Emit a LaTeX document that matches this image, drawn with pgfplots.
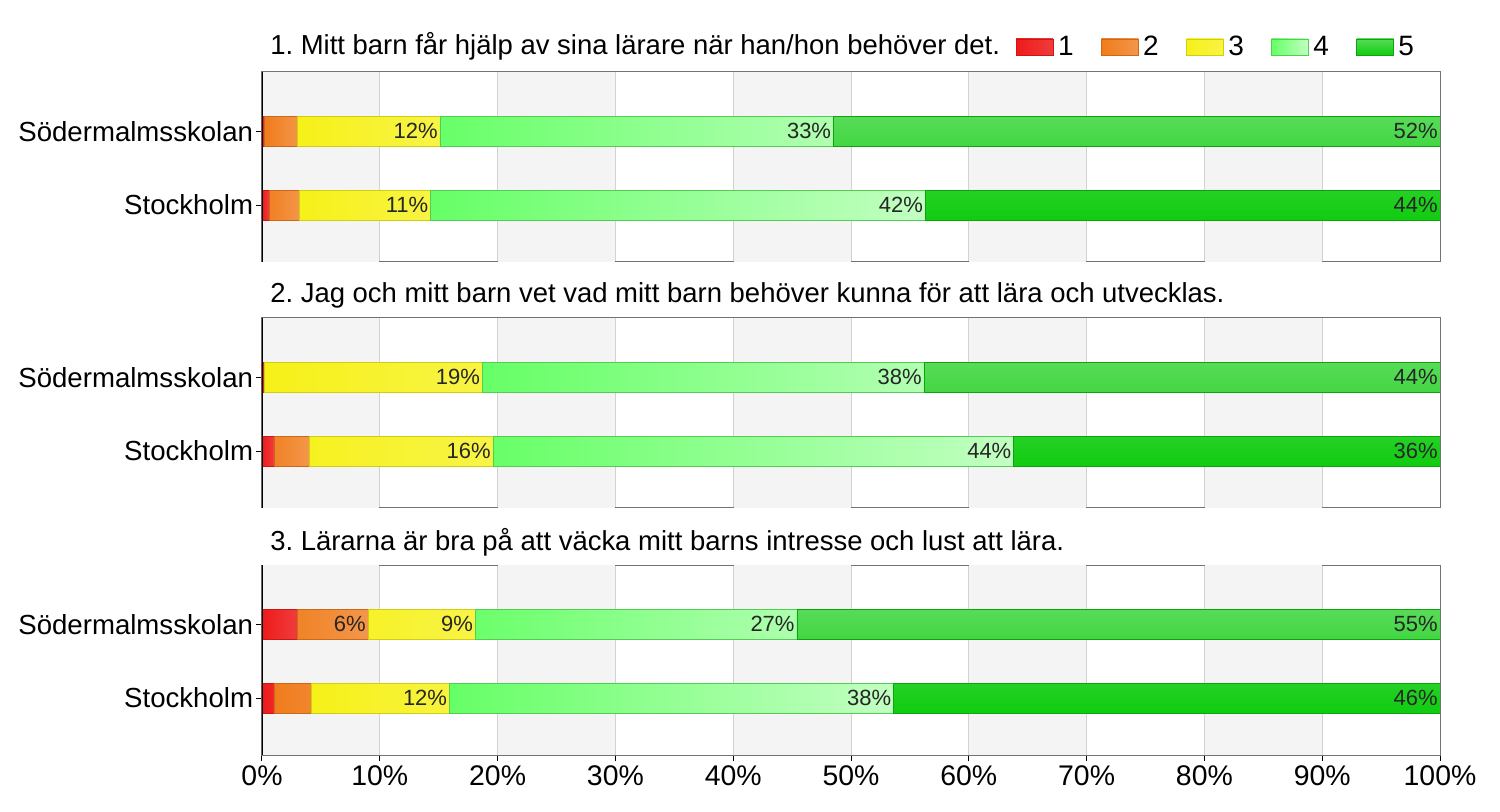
\documentclass[border=0pt]{standalone}
\usepackage{fontspec}
\setmainfont{Liberation Sans}
\usepackage{pgfplots}
\pgfplotsset{compat=1.18}
\frenchspacing
\definecolor{c1}{HTML}{EE1A1A}
\definecolor{c2}{HTML}{F07C1C}
\definecolor{c3}{HTML}{F6F118}
\definecolor{c4}{HTML}{66FF66}
\definecolor{c5}{HTML}{10CC10}
\definecolor{band}{HTML}{F4F4F4}
\definecolor{gridc}{HTML}{D2D2D2}
\pgfplotsset{
 panel/.style={
  scale only axis, width=883.5pt, height=142.5pt,
  xmin=0, xmax=100, ymin=-0.77, ymax=1.8,
  ytick={0,1}, yticklabels={Stockholm,Södermalmsskolan},
  ytick pos=left, xtick pos=bottom,
  xtick={0,10,...,100},
  xmajorgrids, major grid style={gridc, line width=0.75pt},
  extra x ticks={5,25,45,65,85}, extra x tick labels={},
  extra x tick style={grid=major, major grid style={band, line width=87.6pt}, major tick length=0pt},
  tick align=outside, major tick length=4.5pt,
  tick style={black, line width=0.75pt},
  axis line style={black!55, line width=0.75pt},
  xticklabel style={font=\fontsize{21.3}{24}\selectfont},
  yticklabel style={font=\fontsize{20.7}{24}\selectfont, inner sep=2pt},
  title style={at={(0,1)}, anchor=west, xshift=6pt, yshift=11pt, font=\fontsize{20.6}{24}\selectfont, inner sep=0pt},
 },
 bb/.style={xbar, stack plots=x, bar width=22.5pt, line width=0.4pt,
   legend image code/.code={\path[##1] (0pt,-6pt) rectangle (27.75pt,6pt);}},
 s1/.style={bb, draw=c1!85!black, left color=c1, right color=c1!85!white},
 s2/.style={bb, draw=c2!85!black, left color=c2, right color=c2!80!white},
 s3/.style={bb, draw=c3!85!black, left color=c3, right color=c3!80!white},
 s4/.style={bb, draw=c4!80!black, left color=c4, right color=c4!40!white},
 s5/.style={bb, draw=c5!80!black, top color=c5!70!white, bottom color=c5},
 lab/.style={forget plot, stack plots=false, draw=none, no marks,
   point meta=explicit symbolic, nodes near coords,
   every node near coord/.style={anchor=east, font=\fontsize{16.5}{19}\selectfont, text=black!85, inner sep=1.5pt}},
}
\newcommand{\axleft}{\draw[black, line width=1pt] (axis cs:0,-0.77) -- (axis cs:0,1.8);}
\begin{document}
\begin{tikzpicture}
\path[use as bounding box] (0,0) rectangle (1125pt,-609pt);
% Panel 1
\begin{axis}[panel, at={(196.5pt,-196.5pt)}, anchor=south west,
  xticklabels={}, xtick style={draw=none},
  title style={yshift=2pt},
  title={1. Mitt barn får hjälp av sina lärare när han/hon behöver det.},
  legend columns=5,
  legend style={at={(1,1)}, anchor=east, xshift=-12.75pt, yshift=18.75pt, draw=none, fill=none,
    font=\fontsize{21}{24}\selectfont,
    /tikz/every even column/.append style={column sep=17pt},
    nodes={inner sep=3.5pt}},
  ]
\addplot[s1] coordinates {(0.2,1) (0.6,0)};
\addplot[s2] coordinates {(2.8,1) (2.6,0)};
\addplot[s3] coordinates {(12.1,1) (11.1,0)};
\addplot[s4] coordinates {(33.4,1) (42.0,0)};
\addplot[s5] coordinates {(51.5,1) (43.7,0)};
\legend{1,2,3,4,5}
\addplot[lab] coordinates {(15.1,1) [12\%] (48.5,1) [33\%] (100,1) [52\%]};
\addplot[lab] coordinates {(14.3,0) [11\%] (56.3,0) [42\%] (100,0) [44\%]};
\axleft
\end{axis}
% Panel 2
\begin{axis}[panel, at={(196.5pt,-381pt)}, anchor=south west,
  xticklabels={}, xtick style={draw=none},
  title={2. Jag och mitt barn vet vad mitt barn behöver kunna för att lära och utvecklas.},
  ]
\addplot[s1] coordinates {(0.2,1) (1.0,0)};
\addplot[s2] coordinates {(0,1) (3.0,0)};
\addplot[s3] coordinates {(18.5,1) (15.6,0)};
\addplot[s4] coordinates {(37.5,1) (44.2,0)};
\addplot[s5] coordinates {(43.8,1) (36.2,0)};
\addplot[lab] coordinates {(18.7,1) [19\%] (56.2,1) [38\%] (100,1) [44\%]};
\addplot[lab] coordinates {(19.6,0) [16\%] (63.8,0) [44\%] (100,0) [36\%]};
\axleft
\end{axis}
% Panel 3
\begin{axis}[panel, at={(196.5pt,-566.25pt)}, anchor=south west,
  xticklabels={0\%,10\%,20\%,30\%,40\%,50\%,60\%,70\%,80\%,90\%,100\%},
  title={3. Lärarna är bra på att väcka mitt barns intresse och lust att lära.},
  ]
\addplot[s1] coordinates {(3.0,1) (1.0,0)};
\addplot[s2] coordinates {(6.0,1) (3.2,0)};
\addplot[s3] coordinates {(9.1,1) (11.7,0)};
\addplot[s4] coordinates {(27.3,1) (37.7,0)};
\addplot[s5] coordinates {(54.6,1) (46.4,0)};
\addplot[lab] coordinates {(9.0,1) [6\%] (18.1,1) [9\%] (45.4,1) [27\%] (100,1) [55\%]};
\addplot[lab] coordinates {(15.9,0) [12\%] (53.6,0) [38\%] (100,0) [46\%]};
\axleft
\end{axis}
\end{tikzpicture}
\end{document}
